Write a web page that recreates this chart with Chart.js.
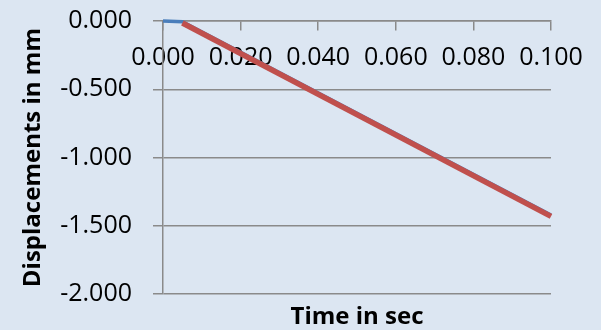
<!DOCTYPE html>
<html lang="en">
<head>
<meta charset="UTF-8">
<title>Displacements vs time</title>
<script src="https://cdn.jsdelivr.net/npm/chart.js"></script>
<style>
  body { margin: 0; background: #dce6f2; }
  #wrap { width: 601px; height: 330px; }
</style>
</head>
<body>
<div id="wrap"><canvas id="dispChart" width="601" height="330"></canvas></div>
<script>
// values (time in sec, displacement in mm)
const timeBlue = [0, 0.005, 0.1];
const dispBlue = [0, -0.005, -1.42];
const timeRed = [0.005, 0.1];
const dispRed = [-0.015, -1.43];

const xTickStep = 0.02;
const yTickStep = 0.5;

const gridColor = '#8a8a8a';
const tickFont = { family: 'Open Sans', size: 25 };
const titleFont = { family: 'Open Sans', size: 24, weight: 'bold' };

function toPoints(xs, ys) {
    return xs.map((x, i) => ({ x: x, y: ys[i] }));
}

const ctx = document.getElementById('dispChart').getContext('2d');
new Chart(ctx, {
    type: 'scatter',
    data: {
        datasets: [
            {
                label: 'Series 2',
                data: toPoints(timeRed, dispRed),
                showLine: true,
                borderColor: '#c0504d',
                borderWidth: 5.5,
                pointRadius: 0,
                clip: false
            },
            {
                label: 'Series 1',
                data: toPoints(timeBlue, dispBlue),
                showLine: true,
                borderColor: '#4a7ebb',
                borderWidth: 3.5,
                pointRadius: 0,
                clip: false
            }
        ]
    },
    options: {
        responsive: false,
        animation: false,
        layout: { padding: { top: 21, right: 50, bottom: 0, left: 0 } },
        plugins: {
            legend: { display: false },
            tooltip: { enabled: false }
        },
        scales: {
            x: {
                type: 'linear',
                position: { y: 0 },
                min: 0,
                max: 0.1,
                ticks: {
                    stepSize: xTickStep,
                    callback: v => v.toFixed(3),
                    font: tickFont,
                    color: '#000',
                    padding: 13,
                    maxRotation: 0,
                    autoSkip: false
                },
                grid: { drawOnChartArea: false, color: gridColor, tickLength: 9, lineWidth: 1.5 },
                border: { color: gridColor, width: 1.5 },
                afterFit: s => { s.height = 0; }
            },
            x2: {
                type: 'linear',
                position: 'bottom',
                ticks: { display: false },
                grid: { display: false, drawTicks: false },
                border: { display: false },
                title: {
                    display: true,
                    text: 'Time in sec',
                    font: titleFont,
                    color: '#000',
                    padding: { top: 9, bottom: -2 }
                }
            },
            y: {
                min: -2,
                max: 0,
                ticks: {
                    stepSize: yTickStep,
                    callback: v => v.toFixed(3),
                    font: tickFont,
                    color: '#000',
                    padding: 21
                },
                grid: { color: gridColor, tickLength: 10, lineWidth: 1.5 },
                border: { color: gridColor, width: 1.5 },
                title: {
                    display: true,
                    text: 'Displacements in mm',
                    font: titleFont,
                    color: '#000',
                    padding: { top: 19, bottom: 0 }
                },
                afterFit: s => {
                    s.width = 163;
                    s.paddingTop = 0;
                    s.paddingBottom = 0;
                }
            }
        }
    }
});
</script>
</body>
</html>
